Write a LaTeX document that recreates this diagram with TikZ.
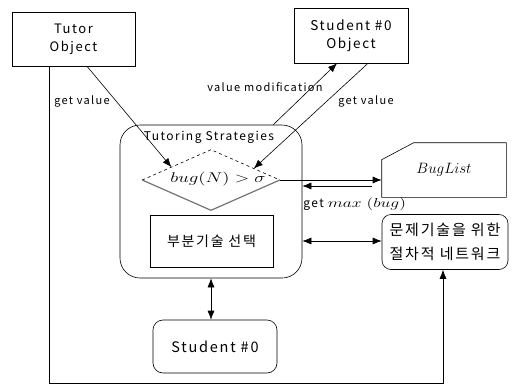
\RequirePackage{fix-cm}
\documentclass[tikz,border=0pt]{standalone}
\usepackage{fontspec}
\setmainfont{Noto Sans CJK KR}[LetterSpace=12]
\usetikzlibrary{arrows.meta,shapes.geometric,calc}
\newcommand{\wide}[1]{\scalebox{1.35}[1]{#1}}
\begin{document}
\begin{tikzpicture}[x=1pt,y=-1pt,
  line width=0.6pt,
  arr/.style={-{Latex[length=9pt,width=7pt]}},
  dbl/.style={{Latex[length=9pt,width=7pt]}-{Latex[length=9pt,width=7pt]}},
  box/.style={draw, rectangle, inner sep=0pt, align=center, font=\fontsize{13}{18}\selectfont},
  kbox/.style={box, font=\fontsize{14}{18}\selectfont},
  lbl/.style={inner sep=1pt, font=\fontsize{11}{13}\selectfont},
]
\useasboundingbox (0,0) rectangle (515,386);

% objects at the top
\node[box, minimum width=123pt, minimum height=54pt] (tutor) at (73.5,39) {Tutor\\Object};
\node[box, minimum width=114pt, minimum height=55pt, font=\fontsize{13.5}{18}\selectfont] (student) at (351,35.5) {Student \#0\\Object};

% strategy container
\node[draw, rounded corners=20pt, minimum width=182pt, minimum height=153pt] (ts) at (211,201.5) {};
\node[inner sep=0pt, font=\fontsize{12}{14}\selectfont] (tstitle) at (209,137) {Tutoring Strategies};

% decision diamond: dashed top, grey lower edges
\node[diamond, aspect=2.28, minimum width=137pt, minimum height=60pt, inner sep=0pt] (dia) at (211,180) {};
\node[inner sep=0pt, font=\fontsize{14}{17}\selectfont] (cond) at (218,179) {\wide{$bug(N) > \sigma$}};
\draw[dashed] (dia.west) -- (dia.north) -- (dia.east);
\draw[black!55, line width=1.2pt] (dia.west) -- (dia.south) -- (dia.east);

\node[kbox, minimum width=123pt, minimum height=52pt] (sel) at (211.5,241) {부분기술 선택};

% bug list card with a clipped corner
\node[minimum width=124pt, minimum height=54pt, inner sep=0pt, font=\fontsize{15}{17}\selectfont] (bug) at (444,170) {$BugList$};
\draw ([yshift=-17pt]bug.north west) -- ([xshift=32pt]bug.north west) -- (bug.north east)
  -- (bug.south east) -- (bug.south west) -- cycle;

\node[kbox, rounded corners=9pt, minimum width=126pt, minimum height=55pt,
      font=\fontsize{15}{24}\selectfont] (net) at (445,242) {문제기술을 위한\\절차적 네트워크};

\node[box, rounded corners=10pt, minimum width=124pt, minimum height=53pt,
      font=\fontsize{14.5}{18}\selectfont] (s0) at (215,346.5) {Student \#0};

% connectors
\draw[arr] ([xshift=13.5pt]tutor.south) -- (dia.162);
\node[lbl] (gv1) at (82,101) {get value};

\draw[arr] ([xshift=-29pt]ts.north east) -- ([xshift=-14pt]student.south);
\node[lbl] (vm) at (265,87) {value modification};
\draw[arr] ([xshift=17pt]student.south) -- (dia.15);
\node[lbl] (gv2) at (366,101) {get value};

\draw[arr] (dia.east) -- (dia.east -| bug.west);
\draw[arr] ($(dia.east -| bug.west)+(-10,6)$) -- ($(dia.east -| ts.east)+(0,6)$);
\node[lbl, anchor=west, font=\fontsize{12}{14}\selectfont] (gm) at (302,204)
  {get \fontsize{13}{14}\selectfont\wide{$max\;(bug)$}};

\draw[dbl] (sel -| ts.east) -- (sel -| net.west);
\draw[dbl] (ts.south) -- (ts.south |- s0.north);

% long return path from the tutor object
\coordinate (c1) at (49,383);
\coordinate (c2) at (443,383);
\draw[arr] (tutor.south -| c1) -- (c1) -- (c2) -- (c2 |- net.south);
\end{tikzpicture}
\end{document}
